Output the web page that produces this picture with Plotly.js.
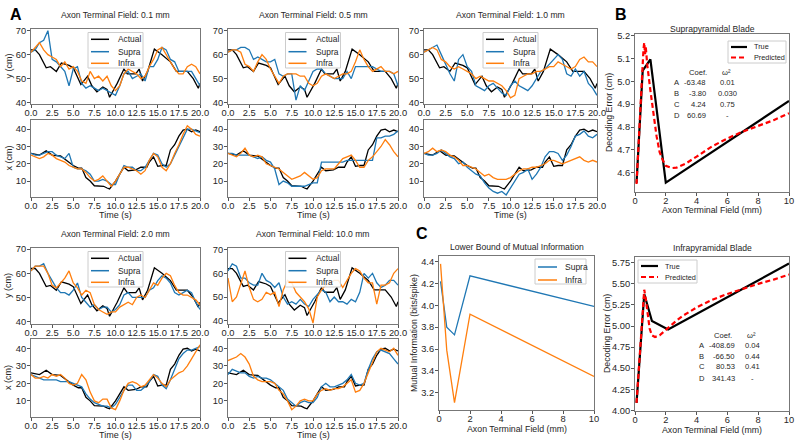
<!DOCTYPE html>
<html><head><meta charset="utf-8">
<script src="https://cdn.plot.ly/plotly-3.0.1.min.js"></script>
<style>html,body{margin:0;padding:0;background:#fff}#chart{width:800px;height:441px}</style>
</head><body><div id="chart"></div><script>
// ---------------- DATA ----------------
const timeS = [0,0.5,1,1.5,2,2.5,3,3.5,4,4.5,5,5.5,6,6.5,7,7.5,8,8.5,9,9.5,10,10.5,11,11.5,12,12.5,13,13.5,14,14.5,15,15.5,16,16.5,17,17.5,18,18.5,19,19.5,20];
const actualTimeY = [0,0.5,1.0,1.8,2.3,3.0,3.6,4.5,5.0,5.9,6.7,7.2,7.8,8.5,9.0,9.3,10.2,11.0,11.4,12.4,12.8,13.2,13.8,14.6,15.5,16.5,17.2,18.5,19.2,19.8,20];
const actualY = [62,62,60,54.5,55,53,56.5,55.5,54.5,47.5,51,47,44.5,46.5,45.5,42.2,48,54,52,52,54,49,53,62.3,60,57,53,53,50,46,48];
const actualTimeX = [0,1.0,1.8,2.5,3.5,4.2,5.0,5.6,6.0,6.5,7.0,7.5,8.0,8.6,9.0,9.3,10.0,10.5,11.0,11.5,12.4,13.0,13.7,14.0,14.5,15.0,15.5,16.0,16.5,17.0,17.5,18.0,18.5,19.0,19.5,20];
const actualX = [26,25,27.5,25,24.5,22,19,17.5,17.5,12,10,7.3,7.2,7,6,5.5,10,14,18,16,16.5,18,18,21,24,18.5,19,19,28,31,36,39.5,40,38.5,39.5,38.5];

const fieldLabels = ['0.1','0.5','1.0','2.0','10.0'];
// 0.1 mm
const supraY_01 = [61,62,65,66,70,58,57,55,53,47,54,55,48,46,47,46,45,46,45,44,43,47,52,53,50,51,52,49,55,55,58,63,62,58,57,53,53,53,53,50,47];
const infraY_01 = [61,63,65,62,60,59,58,55,57,54,55,53,49,48,53,50,51,49,51,47,45,47,52,54,53,52,50,51,55,58,62,63,60,57,54,52,52,55,56,55,52];
const supraX_01 = [26,25,25,26,27,27,25,24,23,26,18,17,17,16,14,10,10,11,10,8,8,14,19,18,18,16,16,18,22,26,25,20,18,20,25,30,35,40,40,39,38];
const infraX_01 = [25,24,23,24,26,25,23,22,21,19,18,17,17,15,12,10,11,13,10,7,10,14,18,18,17,16,14,16,22,26,24,18,16,20,26,31,37,42,40,37,36];
// 0.5 mm
const supraY_05 = [61,62,62,63,63,62,58,59,58,57,57,58,52,51,52,52,41,47,45,49,53,54,54,52,51,50,50,50,53,50,55,55,55,55,55,54,53,53,53,52,47];
const infraY_05 = [61,62,62,61,56,55,53,57,60,58,54,51,48,51,52,52,52,51,51,48,47,48,51,52,51,50,51,52,52,53,57,62,58,55,53,54,55,53,53,52,53];
const supraX_05 = [26,26,25,25,25,25,24,23,24,22,21,17,8,10,9,7,7,7,7,8,9,9,21,21,21,21,21,21,22,22,22,22,22,22,22,35,35,36,36,37,39];
const infraX_05 = [26,25,24,26,29,25,24,25,24,20,19,18,17,15,13,11,12,13,15,13,11,12,16,17,17,17,20,23,24,25,22,18,18,22,24,27,30,34,31,27,24];
// 1.0 mm
const supraY_10 = [61,62,63,64,60,56,52,49,58,60,55,53,47,46,45,47,48,46,44,43,47,49,47,46,45,47,50,53,54,56,58,60,58,52,51,54,51,53,48,46,43];
const infraY_10 = [61,62,63,62,58,57,55,54,55,54,53,52,50,51,50,49,49,48,47,45,42,43,50,51,52,52,53,53,54,55,55,57,56,55,54,55,58,59,57,57,55];
const supraX_10 = [26,25,25,26,28,26,24,23,20,21,18,16,14,13,9,6,4,3,4,2,6,10,14,15,17,11,14,18,24,27,27,26,22,25,30,36,37,39,36,35,37];
const infraX_10 = [26,27,29,27,28,27,25,24,22,19,19,18,17,15,13,14,12,11,11,11,12,14,16,17,17,18,18,19,20,22,22,21,20,21,22,23,24,22,21,22,21];
// 2.0 mm
const supraY_20 = [61,63,63,64,60,57,54,52,52,51,53,56,50,48,46,47,45,46,46,44,45,47,51,52,50,50,50,50,53,54,57,59,58,56,52,51,52,53,52,48,45];
const infraY_20 = [61,63,63,63,60,55,54,56,58,61,56,54,51,53,52,47,45,44,43,44,44,46,47,48,47,50,51,50,53,56,55,58,60,59,55,52,51,51,50,49,47];
const supraX_20 = [25,24,23,22,22,22,22,21,21,21,20,19,18,14,11,9,8,7,7,6,8,12,16,19,19,16,16,18,21,25,24,19,17,22,28,34,37,39,39,40,41];
const infraX_20 = [25,23,23,24,23,25,24,25,23,20,19,20,25,22,15,10,9,11,11,6,5,10,16,20,21,20,18,19,22,25,23,20,18,22,24,26,27,30,34,38,42];
// 10.0 mm
const supraY_100 = [61,64,63,58,58,56,55,55,60,57,56,54,56,50,47,48,47,49,47,46,49,51,53,52,48,50,48,48,47,49,48,52,60,58,60,56,54,55,57,57,55];
const infraY_100 = [58,48,50,56,61,54,49,48,49,52,51,52,46,53,57,56,52,50,48,45,39,50,53,55,56,57,57,54,57,60,62,61,58,56,56,47,55,55,56,60,62];
const supraX_100 = [25,28,27,26,26,24,23,24,23,23,22,20,18,16,11,9,7,9,10,9,9,12,18,20,18,18,19,20,22,25,20,19,20,28,34,38,39,38,37,34,31];
const infraX_100 = [33,34,35,37,35,31,24,22,21,21,21,20,16,14,10,5,7,10,11,10,10,14,16,17,16,17,17,18,20,22,15,16,20,26,32,38,40,39,38,40,36];

// Panel C
const fieldMm = [0.1,0.5,1,2,10];
const miSupra = [4.22,3.80,3.73,4.27,3.99];
const miInfra = [4.38,3.59,3.11,3.92,3.35];

// Panel B
const trueSupraX = [0.1,0.5,1,2,10];
const trueSupraY = [4.555,5.047,5.097,4.556,4.914];
const predSupraX = [0.1,0.3,0.45,0.55,0.6,0.65,0.7,0.8,1.0,1.2,1.4,1.6,1.8,2.0,2.4,2.7,3.3,4,5,6,7,8,9,10];
const predSupraY = [4.55,4.82,5.05,5.14,5.17,5.12,5.15,5.07,4.96,4.85,4.76,4.69,4.655,4.63,4.62,4.622,4.64,4.67,4.715,4.75,4.78,4.805,4.83,4.86];
const trueInfraX = [0.1,0.6,1.1,2.15,10];
const trueInfraY = [4.09,5.38,5.06,4.96,5.74];
const predInfraX = [0.1,0.3,0.5,0.6,0.7,0.8,0.95,1.1,1.3,1.6,1.85,2.15,2.6,3.1,4,5,6,7,8,9,10];
const predInfraY = [4.09,4.6,5.2,5.43,5.32,5.15,4.97,4.89,4.87,4.89,4.93,4.98,5.05,5.12,5.22,5.31,5.38,5.44,5.50,5.55,5.61];

const coefLetters = ['A','B','C','D'];
const supraCoef = ['-63.48','-3.80','4.24','60.69'];
const supraOmega = ['0.01','0.030','0.75','-'];
const infraCoef = ['-408.69','-66.50','80.53','341.43'];
const infraOmega = ['0.04','0.44','0.41','-'];

const seriesNames = ['Actual','Supra','Infra'];
const fitNames = ['True','Predicted'];

// ---------------- LAYOUT ----------------
const W=800,H=441;
const FONT='Liberation Sans, Arial, sans-serif';
const TXT='#262626';
const BLUE='#1f77b4', ORANGE='#ff7f0e';
const DASH='5px,3px';
const PX=x=>x/W, PY=y=>1-y/H;
const axKey=(c,n)=>n===1?c+'axis':c+'axis'+n;
const trKey=(c,n)=>n===1?c:c+n;

const axBase={showline:true,mirror:true,linecolor:'#777',linewidth:1,ticks:'outside',ticklen:3,tickwidth:1,
  tickcolor:'#555',showgrid:false,zeroline:false,tickfont:{family:FONT,size:9.3,color:TXT},fixedrange:true};

const layout={width:W,height:H,margin:{l:0,r:0,t:0,b:0},paper_bgcolor:'#fff',plot_bgcolor:'#fff',
  showlegend:false,font:{family:FONT,color:TXT},annotations:[],shapes:[]};
const traces=[];

function setAxes(n,xl,xr,yt,yb,xopt,yopt){
  layout[axKey('x',n)]=Object.assign({},axBase,{domain:[PX(xl),PX(xr)],anchor:trKey('y',n),ticklabelstandoff:-3},xopt);
  layout[axKey('y',n)]=Object.assign({},axBase,{domain:[PY(yb),PY(yt)],anchor:trKey('x',n),ticklabelstandoff:-1},yopt);
}
function line(n,x,y,name,color,width,dash){
  traces.push({type:'scatter',mode:'lines',x:x,y:y,name:name,xaxis:trKey('x',n),yaxis:trKey('y',n),
    line:{color:color,width:width,dash:dash||'solid'},hoverinfo:'skip',showlegend:false});
}
function ann(text,x,y,o){
  layout.annotations.push(Object.assign({text:text,x:PX(x),y:PY(y),xref:'paper',yref:'paper',showarrow:false,
    xanchor:'center',yanchor:'middle',font:{family:FONT,size:9,color:TXT}},o||{}));
}
function legendBox(x0,y0,x1,y1,entries,lx0,lx1,tx,rows,fs){
  layout.shapes.push({type:'rect',xref:'paper',yref:'paper',x0:PX(x0),x1:PX(x1),y0:PY(y1),y1:PY(y0),
    line:{color:'#cccccc',width:1},fillcolor:'rgba(255,255,255,0.85)',layer:'above'});
  entries.forEach((e,i)=>{
    layout.shapes.push({type:'line',xref:'paper',yref:'paper',x0:PX(lx0),x1:PX(lx1),y0:PY(rows[i]),y1:PY(rows[i]),
      line:{color:e.color,width:e.width,dash:e.dash||'solid'},layer:'above'});
    ann(e.name,tx,rows[i],{xanchor:'left',font:{family:FONT,size:fs,color:TXT}});
  });
}

// Panel A
const cols=[[31,200],[228,398],[424,597]];
const rows=[{y:[29,104],x:[120,197]},{y:[248,324],x:[339,417]}];
const panelsA=[
  {c:0,r:0,sy:supraY_01,iy:infraY_01,sx:supraX_01,ix:infraX_01,yr:[39.4,70.7]},
  {c:1,r:0,sy:supraY_05,iy:infraY_05,sx:supraX_05,ix:infraX_05,yr:[39.4,70.7]},
  {c:2,r:0,sy:supraY_10,iy:infraY_10,sx:supraX_10,ix:infraX_10,yr:[39.4,70.7]},
  {c:0,r:1,sy:supraY_20,iy:infraY_20,sx:supraX_20,ix:infraX_20,yr:[39.0,70.5]},
  {c:1,r:1,sy:supraY_100,iy:infraY_100,sx:supraX_100,ix:infraX_100,yr:[38.6,70.7]}
];
const timeTicks={range:[0,20],tick0:0,dtick:2.5,tickformat:'.1f'};
panelsA.forEach((p,i)=>{
  const [l,r]=cols[p.c], R=rows[p.r];
  const n1=2*i+1, n2=2*i+2;
  setAxes(n1,l,r,R.y[0],R.y[1],timeTicks,{range:p.yr,tick0:40,dtick:10});
  setAxes(n2,l,r,R.x[0],R.x[1],timeTicks,{range:[0.8,45.3],tick0:10,dtick:10});
  line(n1,actualTimeY,actualY,seriesNames[0],'#000',1.3);
  line(n1,timeS,p.sy,seriesNames[1],BLUE,1.3);
  line(n1,timeS,p.iy,seriesNames[2],ORANGE,1.3);
  line(n2,actualTimeX,actualX,seriesNames[0],'#000',1.3);
  line(n2,timeS,p.sx,seriesNames[1],BLUE,1.3);
  line(n2,timeS,p.ix,seriesNames[2],ORANGE,1.3);
  const cx=(l+r)/2, ty=R.y[0];
  ann('Axon Terminal Field: '+fieldLabels[i]+' mm',cx,ty-14,{font:{family:FONT,size:8.6,color:TXT}});
  ann('Time (s)',cx,R.x[1]+18,{font:{family:FONT,size:9,color:TXT}});
  if(p.c===0){
    ann('y (cm)',8,(R.y[0]+R.y[1])/2,{textangle:-90,font:{family:FONT,size:9,color:TXT}});
    ann('x (cm)',8,(R.x[0]+R.x[1])/2,{textangle:-90,font:{family:FONT,size:9,color:TXT}});
  }
  legendBox(cx-27.5,ty+3.5,cx+27.5,ty+39,
    [{name:seriesNames[0],color:'#000',width:1.5},{name:seriesNames[1],color:BLUE,width:1.5},{name:seriesNames[2],color:ORANGE,width:1.5}],
    cx-24.5,cx-6.5,cx+0.5,[ty+10.3,ty+22.7,ty+34.3],8.4);
});

// Panel C (axis 11)
setAxes(11,439,594,256,410,{range:[0,10],tick0:0,dtick:2},{range:[3.042,4.452],tick0:3.2,dtick:0.2,tickformat:'.1f'});
line(11,fieldMm,miSupra,'Supra',BLUE,1.3);
line(11,fieldMm,miInfra,'Infra',ORANGE,1.3);
ann('Lower Bound of Mutual Information',516.5,247,{font:{family:FONT,size:8.6,color:TXT}});
ann('Axon Terminal Field (mm)',516.5,429,{font:{family:FONT,size:8.8,color:TXT}});
ann('Mutual Information (bits/spike)',414,333,{textangle:-90,font:{family:FONT,size:8.8,color:TXT}});
legendBox(535,259,586,284,[{name:'Supra',color:BLUE,width:1.5},{name:'Infra',color:ORANGE,width:1.5}],538,557,563,[267,280],8.5);

// Panel B top (axis 12)
setAxes(12,635,789,34,192,{range:[0,10],tick0:0,dtick:2},{range:[4.515,5.208],tick0:4.6,dtick:0.1,tickformat:'.1f'});
line(12,trueSupraX,trueSupraY,fitNames[0],'#000',2.2);
line(12,predSupraX,predSupraY,fitNames[1],'#ff0000',2.2,DASH);
ann('Suprapyramidal Blade',712,29,{font:{family:FONT,size:8.6,color:TXT}});
ann('Axon Terminal Field (mm)',712,210,{font:{family:FONT,size:8.8,color:TXT}});
ann('Decoding Error (cm)',609,113,{textangle:-90,font:{family:FONT,size:8.8,color:TXT}});
legendBox(728,41,786,63,[{name:fitNames[0],color:'#000',width:2.2},{name:fitNames[1],color:'#ff0000',width:2.2,dash:DASH}],731,747,752,[47,57.5],7.3);

// Panel B bottom (axis 13)
setAxes(13,635,789,257,411,{range:[0,10],tick0:0,dtick:2},{range:[3.993,5.818],tick0:4.25,dtick:0.25,tickformat:'.2f'});
line(13,trueInfraX,trueInfraY,fitNames[0],'#000',2.2);
line(13,predInfraX,predInfraY,fitNames[1],'#ff0000',2.2,DASH);
ann('Infrapyramidal Blade',712,248,{font:{family:FONT,size:8.6,color:TXT}});
ann('Axon Terminal Field (mm)',712,430,{font:{family:FONT,size:8.8,color:TXT}});
ann('Decoding Error (cm)',607,334,{textangle:-90,font:{family:FONT,size:8.8,color:TXT}});
legendBox(638,260,697,283,[{name:fitNames[0],color:'#000',width:2.2},{name:fitNames[1],color:'#ff0000',width:2.2,dash:DASH}],641,658,663,[266,277],7.3);

// Coefficient tables
function table(letters,coef,omega,xL,xHead,xR,xO,yH,ys){
  const f={family:FONT,size:7.6,color:TXT};
  ann('Coef.',xHead,yH,{font:f});
  ann('ω²',xO-1,yH,{font:f});
  letters.forEach((L,i)=>{
    ann(L,xL,ys[i],{font:f});
    ann(coef[i],xR,ys[i],{font:f,xanchor:'right'});
    ann(omega[i],xO,ys[i],{font:f});
  });
}
table(coefLetters,supraCoef,supraOmega,676.5,698,707.5,727,72.7,[82.7,93.3,104.7,116]);
table(coefLetters,infraCoef,infraOmega,701.5,723.3,737,752,335,[345.7,356,366.7,378.3]);

// Panel letters
ann('A',16,14,{font:{family:FONT,size:16,color:'#000',weight:'bold'}});
ann('B',621,14,{font:{family:FONT,size:16,color:'#000',weight:'bold'}});
ann('C',422,233,{font:{family:FONT,size:16,color:'#000',weight:'bold'}});

Plotly.newPlot('chart',traces,layout,{staticPlot:true,displayModeBar:false});
</script></body></html>
